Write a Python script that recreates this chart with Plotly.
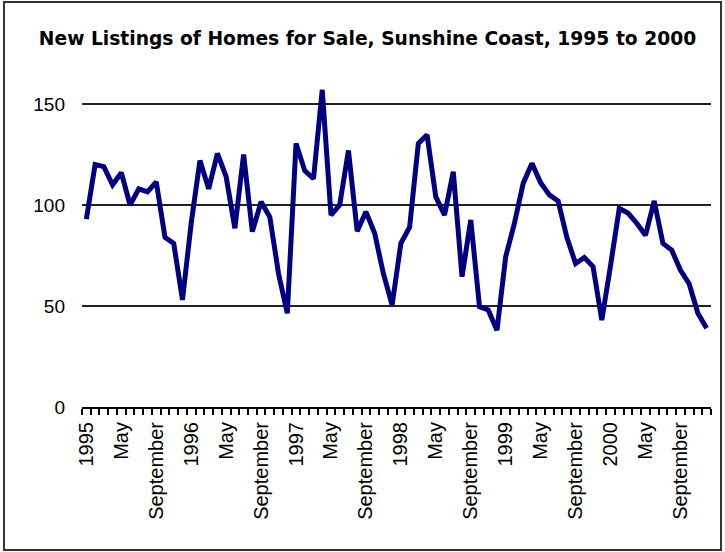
import plotly.graph_objects as go

years = ["1995", "1996", "1997", "1998", "1999", "2000"]
month_names = ["Jan", "Feb", "Mar", "Apr", "May", "Jun",
               "Jul", "Aug", "Sep", "Oct", "Nov", "Dec"]

# New listings per month, Jan 1995 .. Dec 2000
listings_1995 = [93, 120, 119, 110, 116, 100, 108, 106.5, 111.5, 84, 81, 53]
listings_1996 = [91, 122, 108, 125.5, 114, 88.5, 125, 86.8, 101.6, 94, 66, 46.4]
listings_1997 = [130.5, 117, 113, 157, 95, 100, 127, 87, 96.7, 86, 66, 50.5]
listings_1998 = [81, 89, 130.5, 134.7, 104, 95, 116.5, 64.5, 92.6, 49.7, 48, 38]
listings_1999 = [74.4, 91, 110.7, 120.6, 111, 105, 102, 84, 71, 74, 69.5, 43]
listings_2000 = [70, 98.3, 96, 91, 85, 102, 81, 77.7, 67.8, 61, 46.4, 39]

values = (listings_1995 + listings_1996 + listings_1997 +
          listings_1998 + listings_1999 + listings_2000)
categories = [f"{m} {y}" for y in years for m in month_names]

# tick labels: year at January, then "May" and "September"
tick_text = []
for y in years:
    for m in month_names:
        if m == "Jan":
            tick_text.append(y)
        elif m == "May":
            tick_text.append("May")
        elif m == "Sep":
            tick_text.append("September")
        else:
            tick_text.append("")

fig = go.Figure()
fig.add_trace(go.Scatter(
    x=categories, y=values, mode="lines",
    line=dict(color="#000080", width=5),
    cliponaxis=False, hoverinfo="x+y",
))

W, H = 725, 552
L, R, T, B = 82, 14, 80, 145
pw, ph = W - L - R, H - T - B

def px2paper_x(px):
    return (px - L) / pw

def px2paper_y(py):
    return (H - B - py) / ph

fig.update_layout(
    width=W, height=H,
    margin=dict(l=L, r=R, t=T, b=B, pad=0),
    paper_bgcolor="white", plot_bgcolor="white",
    showlegend=False,
    title=dict(
        text="<b>New Listings of Homes for Sale, Sunshine Coast, 1995 to 2000</b>",
        x=367.5 / W, xref="container", xanchor="center",
        y=1 - 38 / H, yref="container", yanchor="middle",
        font=dict(family="DejaVu Sans, Verdana, sans-serif", size=18.7, color="black"),
    ),
    xaxis=dict(
        type="category",
        categoryorder="array", categoryarray=categories,
        tickmode="array", tickvals=categories, ticktext=tick_text,
        tickson="boundaries",
        ticks="outside", ticklen=6, tickwidth=1.5, tickcolor="black",
        tickangle=-90,
        tickfont=dict(family="Liberation Sans, Arial, sans-serif", size=20, color="black"),
        ticklabelstandoff=5,
        showline=True, linecolor="black", linewidth=2,
        showgrid=False, zeroline=False,
        range=[-0.5, 71.5],
    ),
    yaxis=dict(
        range=[0, (H - B - T) / 2.02],
        tickmode="array", tickvals=[0, 50, 100, 150],
        ticktext=["0", "50", "100", "150"],
        ticks="", showline=False,
        showgrid=True, gridcolor="#222222", gridwidth=2,
        zeroline=False,
        tickfont=dict(family="Liberation Sans, Arial, sans-serif", size=19, color="black"),
        ticklabelstandoff=16,
    ),
    shapes=[dict(
        type="rect", xref="paper", yref="paper",
        x0=px2paper_x(4), x1=px2paper_x(721),
        y0=px2paper_y(550), y1=px2paper_y(2),
        line=dict(color="#333333", width=2), fillcolor="rgba(0,0,0,0)",
        layer="below",
    )],
)

fig.write_html(
    "out.html",
    config={"displayModeBar": False},
    post_script="document.body.style.margin='0';document.body.style.padding='0';"
                "document.body.style.overflow='hidden';",
)
